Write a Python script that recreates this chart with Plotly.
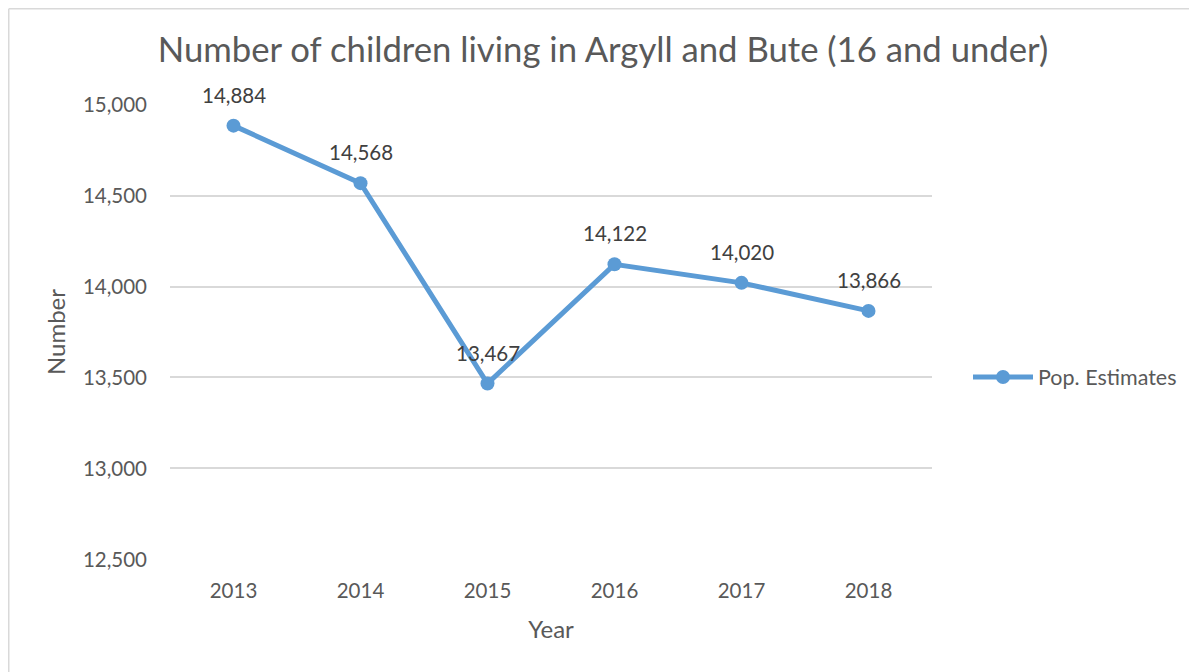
import plotly.graph_objects as go

years = ["2013", "2014", "2015", "2016", "2017", "2018"]
values = [14884, 14568, 13467, 14122, 14020, 13866]
y_ticks = [12500, 13000, 13500, 14000, 14500, 15000]
label_text = [f"{v:,}" for v in values]

FONT = "Lato"
TXT = "#595959"
LINE = "#5B9BD5"

# page body has an 8px margin; compensate so the figure lands where the reference is
OFF = 8
W, H = 1197 - OFF, 672 - OFF
PL, PR, PT, PB = 170 - OFF, 932 - OFF, 104 - OFF, 560 - OFF  # plot area in figure px

fig = go.Figure()
fig.add_trace(go.Scatter(
    x=years, y=values, mode="lines+markers", name="Pop. Estimates",
    line=dict(color=LINE, width=5),
    marker=dict(color=LINE, size=14),
))

for i, (y, t) in enumerate(zip(values, label_text)):
    fig.add_annotation(x=i, y=y, xref="x", yref="y", text=t, showarrow=False, yshift=31,
                       font=dict(family=FONT, size=20.5, color="#404040"))

pw = PR - PL
ph = PB - PT
fig.update_layout(
    width=W, height=H,
    margin=dict(l=PL, r=W - PR, t=PT, b=H - PB),
    paper_bgcolor="white", plot_bgcolor="white",
    title=dict(text="Number of children living in Argyll and Bute (16 and under)",
               x=(603 - OFF) / W, xanchor="center", y=1 - (50 - OFF) / H, yanchor="middle",
               font=dict(family=FONT, size=34.7, color=TXT)),
    font=dict(family=FONT, color=TXT),
    showlegend=True,
    legend=dict(x=(968 - 170) / pw, xanchor="left", y=(560 - 377) / ph, yanchor="middle",
                font=dict(family=FONT, size=21.5, color=TXT), bgcolor="rgba(0,0,0,0)",
                itemwidth=60),
    xaxis=dict(type="category", range=[-0.5, 5.5], showgrid=False, showline=False,
               zeroline=False, ticks="", tickfont=dict(family=FONT, size=20.5, color=TXT),
               ticklabelstandoff=16,
               title=dict(text="Year", font=dict(family=FONT, size=24, color=TXT), standoff=20)),
    yaxis=dict(range=[12497, 15003], tickvals=y_ticks, tickformat=",", showgrid=True,
               gridcolor="#D9D9D9", gridwidth=1.5, zeroline=False, showline=False, ticks="",
               tickfont=dict(family=FONT, size=20.5, color=TXT), ticklabelstandoff=22,
               title=dict(text="Number", font=dict(family=FONT, size=24, color=TXT), standoff=10)),
)

# outer chart border (light gray), left and top edges visible
x0 = (0.75 - PL) / pw
x1 = (W - PL) / pw
y1 = (PB - 0.75) / ph
y0 = (PB - H) / ph
fig.add_shape(type="line", xref="paper", yref="paper", x0=x0, x1=x0, y0=y0, y1=y1,
              line=dict(color="#D9D9D9", width=1.5))
fig.add_shape(type="line", xref="paper", yref="paper", x0=x0, x1=x1, y0=y1, y1=y1,
              line=dict(color="#D9D9D9", width=1.5))

fig.write_html("out.html")
